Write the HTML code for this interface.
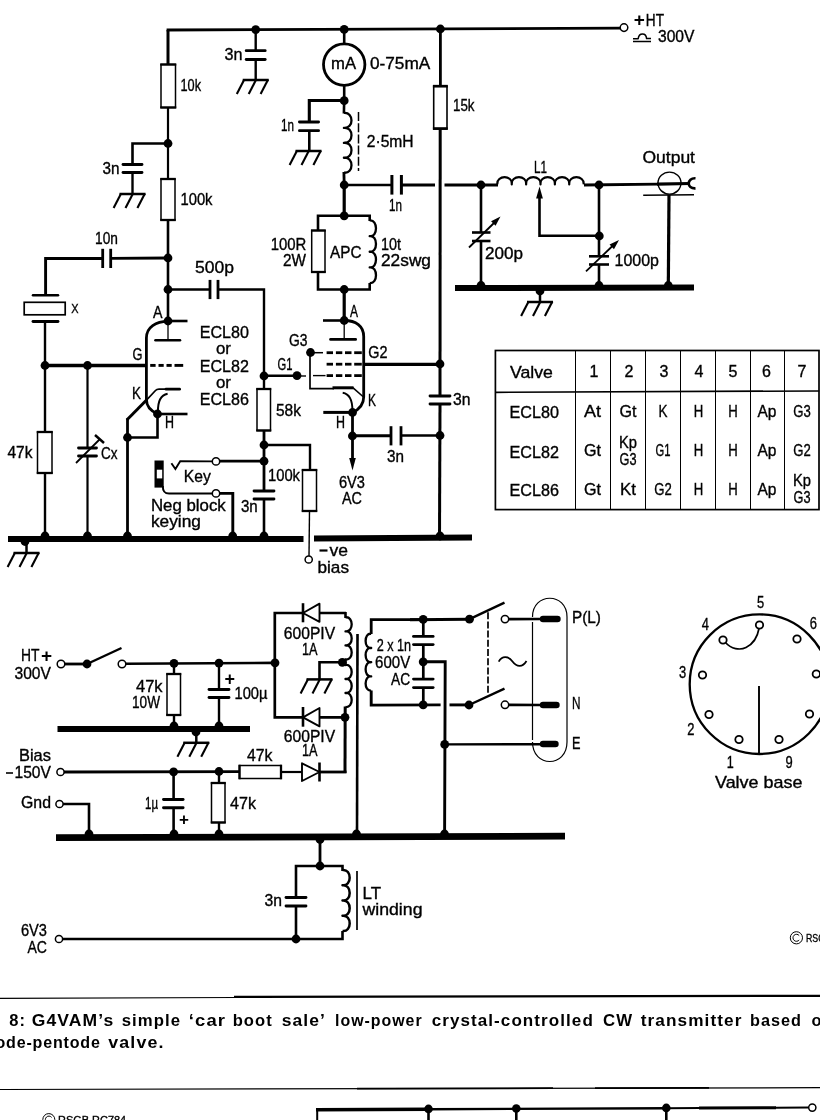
<!DOCTYPE html>
<html><head><meta charset="utf-8"><title>G4VAM transmitter</title>
<style>
html,body{margin:0;padding:0;background:#fff;}
body{width:820px;height:1120px;overflow:hidden;position:relative;}
svg{position:absolute;left:0;top:0;display:block;will-change:transform;}
svg text{font-family:"Liberation Sans",sans-serif;fill:#000;stroke:#000;stroke-width:0.35px;}
svg text.b{stroke:none;}
</style></head><body>
<svg width="820" height="1120" viewBox="0 0 820 1120" stroke="#000" fill="none">
<line x1="166.6" y1="30" x2="620.5" y2="28.2" stroke-width="2.8" stroke-linecap="butt"/>
<line x1="168" y1="30" x2="168" y2="65" stroke-width="3" stroke-linecap="butt"/>
<circle cx="624" cy="27.6" r="3.8" fill="#fff" stroke-width="1.5"/>
<text transform="translate(633.8 26) scale(1.0000 1.000)" font-size="19" font-weight="bold" class="b">+</text>
<text transform="translate(645.8 25.5) scale(0.8533 1.000)" font-size="16">HT</text>
<line x1="633" y1="41.6" x2="651" y2="41.4" stroke-width="1.5" stroke-linecap="butt"/>
<path d="M633 38.7 H638.2 C639 32.5 646 32.5 646.6 38.6 H651" stroke-width="1.5" fill="none" stroke-linecap="butt" stroke-linejoin="round"/>
<text transform="translate(658 41.5) scale(0.9768 1.000)" font-size="16">300V</text>
<rect x="161" y="64.5" width="14.5" height="43" stroke-width="1.5" fill="#fff"/>
<line x1="160.25" y1="64.5" x2="176.25" y2="64.5" stroke-width="2.3" stroke-linecap="butt"/>
<line x1="160.25" y1="107.5" x2="176.25" y2="107.5" stroke-width="2.3" stroke-linecap="butt"/>
<text transform="translate(180.5 91) scale(0.7947 1.000)" font-size="16">10k</text>
<line x1="168" y1="107.5" x2="168" y2="179" stroke-width="2.2" stroke-linecap="butt"/>
<circle cx="168" cy="143.5" r="4.4" fill="#000" stroke="none"/>
<polyline points="168,143.5 132.5,143.5 132.5,164.5" stroke-width="2.6" stroke-linejoin="miter" stroke-linecap="butt" fill="none"/>
<line x1="123" y1="164.5" x2="142" y2="164.5" stroke-width="2.8" stroke-linecap="round"/>
<line x1="123" y1="172.5" x2="142" y2="172.5" stroke-width="2.8" stroke-linecap="round"/>
<line x1="132.5" y1="172.5" x2="132.5" y2="194" stroke-width="2.4" stroke-linecap="butt"/>
<line x1="119.5" y1="194" x2="145.5" y2="194" stroke-width="2.5" stroke-linecap="butt"/>
<line x1="121.1" y1="193.5" x2="113.6" y2="208" stroke-width="2.1" stroke-linecap="butt"/>
<line x1="133" y1="193.5" x2="125.5" y2="208" stroke-width="2.1" stroke-linecap="butt"/>
<line x1="144.9" y1="193.5" x2="137.4" y2="208" stroke-width="2.1" stroke-linecap="butt"/>
<text transform="translate(102.5 174) scale(0.9552 1.000)" font-size="16">3n</text>
<rect x="161" y="179" width="14" height="41" stroke-width="1.5" fill="#fff"/>
<line x1="160.25" y1="179" x2="175.75" y2="179" stroke-width="2.3" stroke-linecap="butt"/>
<line x1="160.25" y1="220" x2="175.75" y2="220" stroke-width="2.3" stroke-linecap="butt"/>
<text transform="translate(180.5 205) scale(0.9223 1.000)" font-size="16">100k</text>
<line x1="168" y1="220" x2="168" y2="321" stroke-width="2.6" stroke-linecap="butt"/>
<circle cx="168" cy="258" r="4.4" fill="#000" stroke="none"/>
<circle cx="168" cy="289.5" r="4.4" fill="#000" stroke="none"/>
<circle cx="168" cy="321" r="4.4" fill="#000" stroke="none"/>
<polyline points="45.6,295 45.6,258.5 102.7,258.5" stroke-width="2.9" stroke-linejoin="miter" stroke-linecap="butt" fill="none"/>
<line x1="102.7" y1="248.8" x2="102.7" y2="268" stroke-width="2.8" stroke-linecap="butt"/>
<line x1="110.7" y1="248.8" x2="110.7" y2="268" stroke-width="2.8" stroke-linecap="butt"/>
<line x1="110.7" y1="258.4" x2="168" y2="258" stroke-width="2.8" stroke-linecap="butt"/>
<text transform="translate(95.1 244) scale(0.8578 1.000)" font-size="16">10n</text>
<line x1="33" y1="295.3" x2="58" y2="295.3" stroke-width="2.5" stroke-linecap="round"/>
<rect x="24.2" y="302.3" width="41" height="12.5" stroke-width="1.7" fill="#fff"/>
<line x1="33" y1="321.5" x2="58" y2="321.5" stroke-width="2.9" stroke-linecap="round"/>
<text transform="translate(71.3 313.3) scale(0.8108 1.000)" font-size="13.5">X</text>
<line x1="45" y1="321" x2="45" y2="432" stroke-width="2.4" stroke-linecap="butt"/>
<rect x="37.5" y="432" width="14.5" height="41" stroke-width="1.5" fill="#fff"/>
<line x1="36.75" y1="432" x2="52.75" y2="432" stroke-width="2.3" stroke-linecap="butt"/>
<line x1="36.75" y1="473" x2="52.75" y2="473" stroke-width="2.3" stroke-linecap="butt"/>
<text transform="translate(7.5 458) scale(0.9691 1.000)" font-size="16">47k</text>
<line x1="45" y1="473" x2="45" y2="538" stroke-width="2.4" stroke-linecap="butt"/>
<line x1="45" y1="365.5" x2="146" y2="365.5" stroke-width="3.4" stroke-linecap="butt"/>
<circle cx="45" cy="365.5" r="4.4" fill="#000" stroke="none"/>
<circle cx="87.5" cy="365.5" r="4.4" fill="#000" stroke="none"/>
<line x1="150.2" y1="365.4" x2="155.6" y2="365.4" stroke-width="2.9" stroke-linecap="butt"/>
<line x1="158.5" y1="365.4" x2="163.7" y2="365.4" stroke-width="2.9" stroke-linecap="butt"/>
<line x1="166.5" y1="365.4" x2="171.7" y2="365.4" stroke-width="2.9" stroke-linecap="butt"/>
<line x1="174.5" y1="365.4" x2="183.2" y2="365.4" stroke-width="2.9" stroke-linecap="butt"/>
<text transform="translate(132.5 359.5) scale(0.8035 1.000)" font-size="16">G</text>
<line x1="87.5" y1="365.5" x2="87.5" y2="448" stroke-width="2.2" stroke-linecap="butt"/>
<line x1="78.5" y1="448" x2="96.5" y2="448" stroke-width="2.8" stroke-linecap="round"/>
<line x1="78.5" y1="456" x2="96.5" y2="456" stroke-width="2.8" stroke-linecap="round"/>
<line x1="87.5" y1="456" x2="87.5" y2="538" stroke-width="2.2" stroke-linecap="butt"/>
<line x1="76" y1="463" x2="100" y2="439" stroke-width="1.8" stroke-linecap="butt"/>
<line x1="95" y1="435" x2="104" y2="443" stroke-width="2.4" stroke-linecap="butt"/>
<text transform="translate(101 459) scale(0.8438 1.000)" font-size="16">Cx</text>
<path d="M168 321.3 C156 321.3 146.4 327 146.4 338 V399.5 C146.4 406 151 411 157.5 414" stroke-width="2.8" fill="none" stroke-linecap="butt" stroke-linejoin="round"/>
<line x1="168" y1="321" x2="187.5" y2="321" stroke-width="2.6" stroke-linecap="butt"/>
<line x1="168" y1="321" x2="168" y2="340" stroke-width="1.3" stroke-linecap="butt"/>
<line x1="155.5" y1="340.2" x2="180" y2="340.2" stroke-width="2.6" stroke-linecap="round"/>
<text transform="translate(153 317.5) scale(0.8902 1.000)" font-size="16">A</text>
<line x1="126.8" y1="420" x2="146.8" y2="399.8" stroke-width="3" stroke-linecap="butt"/>
<path d="M146 400.6 L155.5 390.5 C156.5 389.4 157.5 389.2 159 389.2 H168" stroke-width="1.7" fill="none" stroke-linecap="butt" stroke-linejoin="round"/>
<line x1="166" y1="389.2" x2="179.6" y2="389.2" stroke-width="2.8" stroke-linecap="round"/>
<text transform="translate(132 399) scale(0.8433 1.000)" font-size="16">K</text>
<path d="M167.6 393.7 C161 395 157.6 400 158 412" stroke-width="2" fill="none" stroke-linecap="butt" stroke-linejoin="round"/>
<circle cx="157.5" cy="414" r="4.4" fill="#000" stroke="none"/>
<line x1="157.5" y1="414" x2="187.5" y2="414" stroke-width="2.6" stroke-linecap="butt"/>
<text transform="translate(165 427.5) scale(0.7789 1.000)" font-size="16">H</text>
<polyline points="157.5,414 157.5,437.5 127.5,437.5" stroke-width="2.6" stroke-linejoin="miter" stroke-linecap="butt" fill="none"/>
<circle cx="127.5" cy="437.5" r="4.4" fill="#000" stroke="none"/>
<line x1="127.5" y1="418.5" x2="127.5" y2="538" stroke-width="2.8" stroke-linecap="butt"/>
<text transform="translate(199.75 338) scale(0.9484 1.000)" font-size="17">ECL80</text>
<text transform="translate(216 354) scale(0.9922 1.000)" font-size="17">or</text>
<text transform="translate(199.75 371.5) scale(0.9484 1.000)" font-size="17">ECL82</text>
<text transform="translate(216 387.5) scale(0.9922 1.000)" font-size="17">or</text>
<text transform="translate(199.75 405.3) scale(0.9484 1.000)" font-size="17">ECL86</text>
<line x1="168" y1="289.5" x2="210" y2="289.5" stroke-width="2.6" stroke-linecap="butt"/>
<line x1="210" y1="279.9" x2="210" y2="299.1" stroke-width="2.8" stroke-linecap="butt"/>
<line x1="218" y1="279.9" x2="218" y2="299.1" stroke-width="2.8" stroke-linecap="butt"/>
<polyline points="218,289.5 264,289.5 264,389" stroke-width="2.4" stroke-linejoin="miter" stroke-linecap="butt" fill="none"/>
<text transform="translate(195 273) scale(1.0957 1.000)" font-size="16">500p</text>
<circle cx="264" cy="376" r="4.4" fill="#000" stroke="none"/>
<line x1="264" y1="375.8" x2="297" y2="375.8" stroke-width="2.6" stroke-linecap="butt"/>
<circle cx="297" cy="375.6" r="4.4" fill="#000" stroke="none"/>
<line x1="297" y1="376" x2="306" y2="376" stroke-width="1.4" stroke-linecap="butt"/>
<text transform="translate(277.5 370) scale(0.7028 1.000)" font-size="16">G1</text>
<rect x="257" y="389" width="13.5" height="41.5" stroke-width="1.5" fill="#fff"/>
<line x1="256.25" y1="389" x2="271.25" y2="389" stroke-width="2.3" stroke-linecap="butt"/>
<line x1="256.25" y1="430.5" x2="271.25" y2="430.5" stroke-width="2.3" stroke-linecap="butt"/>
<text transform="translate(276 416) scale(0.9691 1.000)" font-size="16">58k</text>
<line x1="264" y1="430.5" x2="264" y2="491" stroke-width="2.8" stroke-linecap="butt"/>
<circle cx="264" cy="445" r="4.4" fill="#000" stroke="none"/>
<circle cx="264" cy="461.2" r="4.4" fill="#000" stroke="none"/>
<polyline points="264,445 310,445 310,470" stroke-width="2.4" stroke-linejoin="miter" stroke-linecap="butt" fill="none"/>
<rect x="302.5" y="470" width="14" height="41" stroke-width="1.5" fill="#fff"/>
<line x1="301.75" y1="470" x2="317.25" y2="470" stroke-width="2.3" stroke-linecap="butt"/>
<line x1="301.75" y1="511" x2="317.25" y2="511" stroke-width="2.3" stroke-linecap="butt"/>
<text transform="translate(268 481.4) scale(0.9223 1.000)" font-size="16">100k</text>
<line x1="309.5" y1="511" x2="309" y2="556" stroke-width="1.4" stroke-linecap="butt"/>
<circle cx="308.7" cy="559.5" r="3.6" fill="#fff" stroke-width="1.5"/>
<line x1="319.5" y1="550.5" x2="327.5" y2="550.5" stroke-width="2.2" stroke-linecap="butt"/>
<text transform="translate(329.5 555.5) scale(1.0948 1.000)" font-size="16">ve</text>
<text transform="translate(317.5 572.5) scale(1.0732 1.000)" font-size="16">bias</text>
<line x1="254" y1="491" x2="274" y2="491" stroke-width="2.8" stroke-linecap="round"/>
<line x1="254" y1="499" x2="274" y2="499" stroke-width="2.8" stroke-linecap="round"/>
<line x1="264" y1="499" x2="264" y2="538" stroke-width="2.6" stroke-linecap="butt"/>
<text transform="translate(240.9 511.8) scale(0.9440 1.000)" font-size="16">3n</text>
<line x1="264" y1="461.2" x2="219.5" y2="461.2" stroke-width="2.8" stroke-linecap="butt"/>
<circle cx="216" cy="461.4" r="3.7" fill="#fff" stroke-width="1.5"/>
<polyline points="171.4,463.3 175.4,469 180.2,461.2 212.5,461.4" stroke-width="1.9" stroke-linejoin="miter" stroke-linecap="butt" fill="none"/>
<rect x="154.5" y="460.5" width="9.2" height="27.1" stroke-width="0" fill="#000"/>
<rect x="156.8" y="469.7" width="5.4" height="8.7" stroke-width="0" fill="#fff"/>
<path d="M162.8 486 C162.8 491.5 164.5 493.5 169 493.5 H212.5" stroke-width="2" fill="none" stroke-linecap="butt" stroke-linejoin="round"/>
<circle cx="216" cy="493.4" r="3.7" fill="#fff" stroke-width="1.5"/>
<polyline points="219.5,493.4 232.8,493.4 232.8,538" stroke-width="2.9" stroke-linejoin="miter" stroke-linecap="butt" fill="none"/>
<text transform="translate(183.8 482.3) scale(0.9829 1.000)" font-size="16">Key</text>
<text transform="translate(150.9 511.3) scale(1.0527 1.000)" font-size="16">Neg block</text>
<text transform="translate(150.9 527.4) scale(1.0811 1.000)" font-size="16">keying</text>
<line x1="8" y1="539" x2="303.5" y2="539" stroke-width="6" stroke-linecap="butt"/>
<line x1="314" y1="538.5" x2="472" y2="537.5" stroke-width="6" stroke-linecap="butt"/>
<circle cx="45" cy="536" r="4.4" fill="#000" stroke="none"/>
<circle cx="87.5" cy="536" r="4.4" fill="#000" stroke="none"/>
<circle cx="127.5" cy="536" r="4.4" fill="#000" stroke="none"/>
<circle cx="232.7" cy="536" r="4.4" fill="#000" stroke="none"/>
<circle cx="264" cy="536" r="4.4" fill="#000" stroke="none"/>
<circle cx="440" cy="536" r="4.4" fill="#000" stroke="none"/>
<circle cx="25" cy="541.5" r="4.4" fill="#000" stroke="none"/>
<line x1="26.5" y1="541" x2="26.5" y2="553" stroke-width="2.5" stroke-linecap="butt"/>
<line x1="13.5" y1="553" x2="39.5" y2="553" stroke-width="2.5" stroke-linecap="butt"/>
<line x1="15.1" y1="552.5" x2="7.6" y2="567" stroke-width="2.1" stroke-linecap="butt"/>
<line x1="27" y1="552.5" x2="19.5" y2="567" stroke-width="2.1" stroke-linecap="butt"/>
<line x1="38.9" y1="552.5" x2="31.4" y2="567" stroke-width="2.1" stroke-linecap="butt"/>
<circle cx="255.7" cy="29.6" r="4.4" fill="#000" stroke="none"/>
<line x1="255.7" y1="29.6" x2="255.7" y2="50.7" stroke-width="2.4" stroke-linecap="butt"/>
<line x1="246.2" y1="50.7" x2="265.2" y2="50.7" stroke-width="2.8" stroke-linecap="round"/>
<line x1="246.2" y1="59.5" x2="265.2" y2="59.5" stroke-width="2.8" stroke-linecap="round"/>
<line x1="255.7" y1="59.5" x2="255.7" y2="80" stroke-width="2.4" stroke-linecap="butt"/>
<line x1="242.7" y1="80" x2="268.7" y2="80" stroke-width="2.5" stroke-linecap="butt"/>
<line x1="244.3" y1="79.5" x2="236.8" y2="94" stroke-width="2.1" stroke-linecap="butt"/>
<line x1="256.2" y1="79.5" x2="248.7" y2="94" stroke-width="2.1" stroke-linecap="butt"/>
<line x1="268.1" y1="79.5" x2="260.6" y2="94" stroke-width="2.1" stroke-linecap="butt"/>
<text transform="translate(224.5 60) scale(1.0114 1.000)" font-size="16">3n</text>
<circle cx="344.2" cy="29.4" r="4.4" fill="#000" stroke="none"/>
<line x1="344.2" y1="29.4" x2="344.2" y2="44" stroke-width="2.6" stroke-linecap="butt"/>
<circle cx="344.2" cy="64.6" r="20.7" stroke-width="2.8" fill="#fff"/>
<text transform="translate(331 68.9) scale(1.0417 1.000)" font-size="16">mA</text>
<text transform="translate(370 68.9) scale(1.0763 1.000)" font-size="16">0-75mA</text>
<line x1="344.2" y1="85" x2="344.2" y2="101" stroke-width="2.6" stroke-linecap="butt"/>
<circle cx="344.2" cy="100.7" r="4.4" fill="#000" stroke="none"/>
<polyline points="344.2,100.5 309.3,100.5 309.3,122" stroke-width="3.1" stroke-linejoin="miter" stroke-linecap="butt" fill="none"/>
<line x1="299.4" y1="122" x2="318.6" y2="122" stroke-width="2.8" stroke-linecap="round"/>
<line x1="299.4" y1="130.7" x2="318.6" y2="130.7" stroke-width="2.8" stroke-linecap="round"/>
<line x1="309.3" y1="130.5" x2="309.3" y2="151" stroke-width="2.6" stroke-linecap="butt"/>
<line x1="295.5" y1="151" x2="321.5" y2="151" stroke-width="2.5" stroke-linecap="butt"/>
<line x1="297.1" y1="150.5" x2="289.6" y2="165" stroke-width="2.1" stroke-linecap="butt"/>
<line x1="309" y1="150.5" x2="301.5" y2="165" stroke-width="2.1" stroke-linecap="butt"/>
<line x1="320.9" y1="150.5" x2="313.4" y2="165" stroke-width="2.1" stroke-linecap="butt"/>
<text transform="translate(281 131) scale(0.7305 1.000)" font-size="16">1n</text>
<line x1="344.2" y1="100" x2="343.9" y2="113.5" stroke-width="2.6" stroke-linecap="butt"/>
<path d="M343.9 112.9 C354.01 111.7 354.01 129.05 343.9 127.85 C354.01 126.65 354.01 144 343.9 142.8 C354.01 141.6 354.01 158.95 343.9 157.75 C354.01 156.55 354.01 173.9 343.9 172.7" stroke-width="2.3" fill="none" stroke-linecap="butt" stroke-linejoin="round"/>
<line x1="343.9" y1="172" x2="344.2" y2="185" stroke-width="2.8" stroke-linecap="butt"/>
<line x1="358.5" y1="112" x2="358.5" y2="171" stroke-width="1.5" stroke-linecap="butt" stroke-dasharray="9 2.2"/>
<text transform="translate(366.8 146.5) scale(0.9769 1.000)" font-size="16">2·5mH</text>
<circle cx="344.2" cy="185" r="4.4" fill="#000" stroke="none"/>
<line x1="344.2" y1="185" x2="391.9" y2="185" stroke-width="2.6" stroke-linecap="butt"/>
<line x1="391.9" y1="175" x2="391.9" y2="194.6" stroke-width="3" stroke-linecap="butt"/>
<line x1="401.4" y1="175" x2="401.4" y2="194.6" stroke-width="3" stroke-linecap="butt"/>
<line x1="401.4" y1="185" x2="435" y2="185" stroke-width="3" stroke-linecap="butt"/>
<text transform="translate(389 211) scale(0.7305 1.000)" font-size="16">1n</text>
<line x1="344.2" y1="185" x2="344.2" y2="216" stroke-width="3.2" stroke-linecap="butt"/>
<circle cx="344.2" cy="215.8" r="4.4" fill="#000" stroke="none"/>
<polyline points="318,231 318,215.8 369.7,215.8 369.7,221" stroke-width="2.6" stroke-linejoin="miter" stroke-linecap="butt" fill="none"/>
<rect x="311.7" y="230.5" width="13.3" height="41.5" stroke-width="1.5" fill="#fff"/>
<line x1="310.95" y1="230.5" x2="325.75" y2="230.5" stroke-width="2.3" stroke-linecap="butt"/>
<line x1="310.95" y1="272" x2="325.75" y2="272" stroke-width="2.3" stroke-linecap="butt"/>
<polyline points="318,272 318,289.5 369.7,289.5 369.7,283" stroke-width="2.6" stroke-linejoin="miter" stroke-linecap="butt" fill="none"/>
<path d="M369.7 220.5 C378.08 219.25 378.08 237.38 369.7 236.12 C378.08 234.88 378.08 253 369.7 251.75 C378.08 250.5 378.08 268.62 369.7 267.38 C378.08 266.12 378.08 284.25 369.7 283" stroke-width="2.3" fill="none" stroke-linecap="butt" stroke-linejoin="round"/>
<circle cx="344.2" cy="289.5" r="4.4" fill="#000" stroke="none"/>
<text transform="translate(270.7 250.3) scale(0.9333 1.000)" font-size="16">100R</text>
<text transform="translate(283 266.3) scale(0.9583 1.000)" font-size="16">2W</text>
<text transform="translate(330 257.6) scale(0.9575 1.000)" font-size="16">APC</text>
<text transform="translate(381 250.3) scale(0.8992 1.000)" font-size="16">10t</text>
<text transform="translate(381 266.3) scale(1.0811 1.000)" font-size="16">22swg</text>
<line x1="344.2" y1="289.5" x2="344.2" y2="320.5" stroke-width="3.2" stroke-linecap="butt"/>
<circle cx="344.2" cy="320.5" r="4.4" fill="#000" stroke="none"/>
<line x1="323" y1="320.5" x2="344.2" y2="320.5" stroke-width="2.6" stroke-linecap="butt"/>
<path d="M344.2 320.5 C356 320.5 363.7 326 363.7 336.5 V397 C363.7 404 359 409.5 352.5 412.5" stroke-width="2.8" fill="none" stroke-linecap="butt" stroke-linejoin="round"/>
<line x1="344.2" y1="320.5" x2="344.2" y2="339.5" stroke-width="1.3" stroke-linecap="butt"/>
<line x1="330.5" y1="339.4" x2="355.7" y2="339.4" stroke-width="2.6" stroke-linecap="round"/>
<text transform="translate(350 316.5) scale(0.7496 1.000)" font-size="16">A</text>
<circle cx="310.5" cy="352.5" r="4.4" fill="#000" stroke="none"/>
<line x1="310.5" y1="352.7" x2="323" y2="352.7" stroke-width="1.5" stroke-linecap="butt"/>
<line x1="326.6" y1="352.7" x2="333" y2="352.7" stroke-width="2.8" stroke-linecap="butt"/>
<line x1="335.9" y1="352.7" x2="342.3" y2="352.7" stroke-width="2.8" stroke-linecap="butt"/>
<line x1="345" y1="352.7" x2="351.5" y2="352.7" stroke-width="2.8" stroke-linecap="butt"/>
<line x1="354.2" y1="352.7" x2="361.8" y2="352.7" stroke-width="2.8" stroke-linecap="butt"/>
<text transform="translate(289 346) scale(0.8668 1.000)" font-size="16">G3</text>
<line x1="326.6" y1="364.2" x2="333" y2="364.2" stroke-width="2.8" stroke-linecap="butt"/>
<line x1="335.9" y1="364.2" x2="342.3" y2="364.2" stroke-width="2.8" stroke-linecap="butt"/>
<line x1="345" y1="364.2" x2="351.5" y2="364.2" stroke-width="2.8" stroke-linecap="butt"/>
<line x1="354.2" y1="364.2" x2="361.8" y2="364.2" stroke-width="2.8" stroke-linecap="butt"/>
<line x1="364.5" y1="364.3" x2="440" y2="364.3" stroke-width="3.2" stroke-linecap="butt"/>
<text transform="translate(368.3 358) scale(0.8996 1.000)" font-size="16">G2</text>
<line x1="313" y1="375.6" x2="325.5" y2="375.6" stroke-width="1.4" stroke-linecap="butt"/>
<line x1="326.6" y1="375.6" x2="333" y2="375.6" stroke-width="2.8" stroke-linecap="butt"/>
<line x1="335.9" y1="375.6" x2="342.3" y2="375.6" stroke-width="2.8" stroke-linecap="butt"/>
<line x1="345" y1="375.6" x2="351.5" y2="375.6" stroke-width="2.8" stroke-linecap="butt"/>
<line x1="354.2" y1="375.6" x2="361.8" y2="375.6" stroke-width="2.8" stroke-linecap="butt"/>
<polyline points="310,352.5 310,388.6 334,388.6" stroke-width="1.7" stroke-linejoin="miter" stroke-linecap="butt" fill="none"/>
<line x1="332.5" y1="387.8" x2="353.5" y2="387.8" stroke-width="3" stroke-linecap="butt"/>
<line x1="352.5" y1="387.3" x2="363.5" y2="397" stroke-width="1.6" stroke-linecap="butt"/>
<text transform="translate(368 406) scale(0.7496 1.000)" font-size="16">K</text>
<path d="M342.7 392.8 C348.5 393.8 352.6 398 352.4 411" stroke-width="1.9" fill="none" stroke-linecap="butt" stroke-linejoin="round"/>
<circle cx="352.5" cy="412.5" r="4.4" fill="#000" stroke="none"/>
<line x1="323.3" y1="412.4" x2="352.5" y2="412.4" stroke-width="3" stroke-linecap="butt"/>
<text transform="translate(336 427.5) scale(0.7789 1.000)" font-size="16">H</text>
<line x1="352.5" y1="412.5" x2="352.5" y2="459" stroke-width="2.8" stroke-linecap="butt"/>
<circle cx="352.4" cy="436" r="4.4" fill="#000" stroke="none"/>
<polygon points="352.5,470.5 349.2,458 355.8,458" fill="#000" stroke="none"/>
<line x1="352.5" y1="435.8" x2="391" y2="435.8" stroke-width="3" stroke-linecap="butt"/>
<line x1="391" y1="426.2" x2="391" y2="445.4" stroke-width="2.8" stroke-linecap="butt"/>
<line x1="401" y1="426.2" x2="401" y2="445.4" stroke-width="2.8" stroke-linecap="butt"/>
<line x1="401" y1="435.5" x2="440" y2="435.5" stroke-width="2.6" stroke-linecap="butt"/>
<text transform="translate(387 462) scale(0.9552 1.000)" font-size="16">3n</text>
<text transform="translate(339 487.5) scale(0.9133 1.000)" font-size="16">6V3</text>
<text transform="translate(342 504) scale(0.8998 1.000)" font-size="16">AC</text>
<circle cx="440.4" cy="29" r="4.4" fill="#000" stroke="none"/>
<line x1="440.4" y1="29" x2="440.4" y2="86" stroke-width="2.8" stroke-linecap="butt"/>
<rect x="433.7" y="86.2" width="13.3" height="42.4" stroke-width="1.6" fill="#fff"/>
<line x1="432.9" y1="86.2" x2="447.8" y2="86.2" stroke-width="2.7" stroke-linecap="butt"/>
<line x1="432.9" y1="128.6" x2="447.8" y2="128.6" stroke-width="2.7" stroke-linecap="butt"/>
<text transform="translate(453 111) scale(0.8334 1.000)" font-size="16">15k</text>
<line x1="440.2" y1="129" x2="440" y2="396" stroke-width="3" stroke-linecap="butt"/>
<circle cx="440" cy="364" r="4.4" fill="#000" stroke="none"/>
<line x1="430" y1="396" x2="450" y2="396" stroke-width="2.8" stroke-linecap="round"/>
<line x1="430" y1="404" x2="450" y2="404" stroke-width="2.8" stroke-linecap="round"/>
<text transform="translate(453 405) scale(0.9833 1.000)" font-size="16">3n</text>
<line x1="440" y1="404" x2="439.5" y2="538" stroke-width="3" stroke-linecap="butt"/>
<circle cx="440" cy="435.5" r="4.4" fill="#000" stroke="none"/>
<line x1="444.5" y1="185" x2="498" y2="185" stroke-width="2.8" stroke-linecap="butt"/>
<circle cx="481" cy="185" r="4.4" fill="#000" stroke="none"/>
<path d="M497.4 184.4 C496.25 174.82 512.92 174.82 511.77 184.4 C510.62 174.82 527.28 174.82 526.13 184.4 C524.98 174.82 541.65 174.82 540.5 184.4 C539.35 174.82 556.02 174.82 554.87 184.4 C553.72 174.82 570.38 174.82 569.23 184.4 C568.08 174.82 584.75 174.82 583.6 184.4" stroke-width="2.2" fill="none" stroke-linecap="butt" stroke-linejoin="round"/>
<line x1="584" y1="185" x2="658" y2="184.1" stroke-width="2.8" stroke-linecap="butt"/>
<circle cx="599" cy="185" r="4.4" fill="#000" stroke="none"/>
<text transform="translate(534 172.5) scale(0.7305 1.000)" font-size="16">L1</text>
<polygon points="539.5,186.5 542.9,198.5 536.1,198.5" fill="#000" stroke="none"/>
<polyline points="539.5,196 539.5,235.8 599,235.8" stroke-width="2.6" stroke-linejoin="miter" stroke-linecap="butt" fill="none"/>
<circle cx="599.3" cy="236" r="4.4" fill="#000" stroke="none"/>
<line x1="481" y1="185" x2="481" y2="232.5" stroke-width="2.6" stroke-linecap="butt"/>
<line x1="472" y1="232.5" x2="490.5" y2="232.5" stroke-width="2.6" stroke-linecap="butt"/>
<line x1="472" y1="241" x2="490.5" y2="241" stroke-width="2.6" stroke-linecap="butt"/>
<line x1="481" y1="241" x2="481" y2="287" stroke-width="2.6" stroke-linecap="butt"/>
<line x1="469" y1="247.5" x2="495" y2="222" stroke-width="1.8" stroke-linecap="butt"/>
<polygon points="500.5,216.5 495.54,225.76 491.09,221.16" fill="#000" stroke="none"/>
<text transform="translate(485 259) scale(1.0676 1.000)" font-size="16">200p</text>
<line x1="599" y1="185" x2="599" y2="256.3" stroke-width="2.6" stroke-linecap="butt"/>
<line x1="589" y1="256.3" x2="609" y2="256.3" stroke-width="2.6" stroke-linecap="butt"/>
<line x1="589" y1="264.5" x2="609" y2="264.5" stroke-width="2.6" stroke-linecap="butt"/>
<line x1="599" y1="264.5" x2="599" y2="287" stroke-width="2.6" stroke-linecap="butt"/>
<line x1="586" y1="271.4" x2="613" y2="245.5" stroke-width="1.8" stroke-linecap="butt"/>
<polygon points="619,240 613.96,249.21 609.55,244.58" fill="#000" stroke="none"/>
<text transform="translate(614.6 265.7) scale(0.9979 1.000)" font-size="16">1000p</text>
<text transform="translate(642.5 162.5) scale(1.0930 1.000)" font-size="16">Output</text>
<ellipse cx="669.5" cy="183.1" rx="11.5" ry="11" stroke-width="1.4" fill="none"/>
<line x1="657" y1="184.1" x2="690" y2="183.5" stroke-width="3.2" stroke-linecap="butt"/>
<path d="M695.5 178.3 C686.5 177.8 686.5 189 695.5 188.4" stroke-width="2.6" fill="none" stroke-linecap="butt" stroke-linejoin="round"/>
<line x1="643.2" y1="195.3" x2="694" y2="194.8" stroke-width="1.6" stroke-linecap="butt"/>
<line x1="669" y1="195" x2="668.3" y2="287" stroke-width="3.2" stroke-linecap="butt"/>
<line x1="455" y1="288" x2="694" y2="287.5" stroke-width="6" stroke-linecap="butt"/>
<circle cx="481" cy="285.5" r="4.4" fill="#000" stroke="none"/>
<circle cx="599" cy="285.5" r="4.4" fill="#000" stroke="none"/>
<circle cx="668.3" cy="285.5" r="4.4" fill="#000" stroke="none"/>
<circle cx="540" cy="291" r="4.4" fill="#000" stroke="none"/>
<line x1="540" y1="290" x2="540" y2="302" stroke-width="2.5" stroke-linecap="butt"/>
<line x1="527" y1="302" x2="553" y2="302" stroke-width="2.5" stroke-linecap="butt"/>
<line x1="528.6" y1="301.5" x2="521.1" y2="316" stroke-width="2.1" stroke-linecap="butt"/>
<line x1="540.5" y1="301.5" x2="533" y2="316" stroke-width="2.1" stroke-linecap="butt"/>
<line x1="552.4" y1="301.5" x2="544.9" y2="316" stroke-width="2.1" stroke-linecap="butt"/>
<rect x="495.4" y="350.5" width="323.6" height="159.1" stroke-width="1.7" fill="none"/>
<line x1="495" y1="392.3" x2="819.3" y2="391" stroke-width="1.7" stroke-linecap="butt"/>
<line x1="575.5" y1="350" x2="575.5" y2="509.7" stroke-width="1" stroke-linecap="butt"/>
<line x1="610.5" y1="350" x2="610.5" y2="509.7" stroke-width="1" stroke-linecap="butt"/>
<line x1="645.5" y1="350" x2="645.5" y2="509.7" stroke-width="1" stroke-linecap="butt"/>
<line x1="680.5" y1="350" x2="680.5" y2="509.7" stroke-width="1" stroke-linecap="butt"/>
<line x1="715.5" y1="350" x2="715.5" y2="509.7" stroke-width="1" stroke-linecap="butt"/>
<line x1="750.5" y1="350" x2="750.5" y2="509.7" stroke-width="1" stroke-linecap="butt"/>
<line x1="784.5" y1="350" x2="784.5" y2="509.7" stroke-width="1" stroke-linecap="butt"/>
<text transform="translate(510 377.5) scale(1.1072 1.000)" font-size="16">Valve</text>
<text transform="translate(589.55 377.3) scale(1.0000 1.000)" font-size="16">1</text>
<text transform="translate(624.55 377.3) scale(1.0000 1.000)" font-size="16">2</text>
<text transform="translate(659.55 377.3) scale(1.0000 1.000)" font-size="16">3</text>
<text transform="translate(694.55 377.3) scale(1.0000 1.000)" font-size="16">4</text>
<text transform="translate(728.55 377.3) scale(1.0000 1.000)" font-size="16">5</text>
<text transform="translate(762.05 377.3) scale(1.0000 1.000)" font-size="16">6</text>
<text transform="translate(797.55 377.3) scale(1.0000 1.000)" font-size="16">7</text>
<text transform="translate(509.5 418) scale(1.0118 1.000)" font-size="16">ECL80</text>
<text transform="translate(509.5 458) scale(1.0118 1.000)" font-size="16">ECL82</text>
<text transform="translate(509.5 496) scale(1.0118 1.000)" font-size="16">ECL86</text>
<text transform="translate(584 417.3) scale(1.1245 1.000)" font-size="16">At</text>
<text transform="translate(619.5 417.3) scale(1.0065 1.000)" font-size="16">Gt</text>
<text transform="translate(658.5 417.3) scale(0.8433 1.000)" font-size="16">K</text>
<text transform="translate(693.75 417.3) scale(0.8222 1.000)" font-size="16">H</text>
<text transform="translate(728.25 417.3) scale(0.8222 1.000)" font-size="16">H</text>
<text transform="translate(757.5 417.3) scale(0.9709 1.000)" font-size="16">Ap</text>
<text transform="translate(793.25 417.3) scale(0.8199 1.000)" font-size="16">G3</text>
<text transform="translate(584 456.3) scale(1.0065 1.000)" font-size="16">Gt</text>
<text transform="translate(655.5 456.3) scale(0.7028 1.000)" font-size="16">G1</text>
<text transform="translate(693.75 456.3) scale(0.8222 1.000)" font-size="16">H</text>
<text transform="translate(728.25 456.3) scale(0.8222 1.000)" font-size="16">H</text>
<text transform="translate(757.5 456.3) scale(0.9709 1.000)" font-size="16">Ap</text>
<text transform="translate(793.25 456.3) scale(0.8199 1.000)" font-size="16">G2</text>
<text transform="translate(584 495) scale(1.0065 1.000)" font-size="16">Gt</text>
<text transform="translate(620 495) scale(1.0584 1.000)" font-size="16">Kt</text>
<text transform="translate(654.25 495) scale(0.8199 1.000)" font-size="16">G2</text>
<text transform="translate(693.75 495) scale(0.8222 1.000)" font-size="16">H</text>
<text transform="translate(728.25 495) scale(0.8222 1.000)" font-size="16">H</text>
<text transform="translate(757.5 495) scale(0.9709 1.000)" font-size="16">Ap</text>
<text transform="translate(619 447.5) scale(0.9198 1.000)" font-size="16">Kp</text>
<text transform="translate(619.5 464.5) scale(0.7965 1.000)" font-size="16">G3</text>
<text transform="translate(793 486) scale(0.9198 1.000)" font-size="16">Kp</text>
<text transform="translate(793.5 502.5) scale(0.7965 1.000)" font-size="16">G3</text>
<text transform="translate(21 661) scale(0.8674 1.000)" font-size="16">HT</text>
<text transform="translate(41 661.5) scale(1.0000 1.000)" font-size="19" font-weight="bold" class="b">+</text>
<text transform="translate(14.5 679) scale(0.9768 1.000)" font-size="16">300V</text>
<circle cx="61" cy="664" r="3.8" fill="#fff" stroke-width="1.5"/>
<line x1="64.8" y1="664" x2="87" y2="664" stroke-width="2.8" stroke-linecap="butt"/>
<circle cx="87" cy="664" r="4.4" fill="#000" stroke="none"/>
<line x1="87" y1="664" x2="121.5" y2="648" stroke-width="2.4" stroke-linecap="butt"/>
<circle cx="122" cy="664" r="3.8" fill="#fff" stroke-width="1.5"/>
<line x1="125.8" y1="663.8" x2="275" y2="662.9" stroke-width="2.6" stroke-linecap="butt"/>
<circle cx="174" cy="663.3" r="4.4" fill="#000" stroke="none"/>
<circle cx="219" cy="663.1" r="4.4" fill="#000" stroke="none"/>
<circle cx="275" cy="662.8" r="4.4" fill="#000" stroke="none"/>
<line x1="174" y1="663" x2="174" y2="674" stroke-width="2.4" stroke-linecap="butt"/>
<rect x="167" y="674" width="13.5" height="41" stroke-width="1.5" fill="#fff"/>
<line x1="166.25" y1="674" x2="181.25" y2="674" stroke-width="2.3" stroke-linecap="butt"/>
<line x1="166.25" y1="715" x2="181.25" y2="715" stroke-width="2.3" stroke-linecap="butt"/>
<line x1="174" y1="715" x2="174" y2="727" stroke-width="2.4" stroke-linecap="butt"/>
<text transform="translate(136 692) scale(1.0273 1.000)" font-size="16">47k</text>
<text transform="translate(132 707.5) scale(0.8511 1.000)" font-size="16">10W</text>
<line x1="219" y1="663" x2="219" y2="689.5" stroke-width="2.4" stroke-linecap="butt"/>
<line x1="209" y1="689.5" x2="229" y2="689.5" stroke-width="2.8" stroke-linecap="round"/>
<line x1="209" y1="697.5" x2="229" y2="697.5" stroke-width="2.8" stroke-linecap="round"/>
<line x1="219" y1="697.5" x2="219" y2="727" stroke-width="2.4" stroke-linecap="butt"/>
<text transform="translate(224.5 684.5) scale(1.0000 1.000)" font-size="18" font-weight="bold" class="b">+</text>
<text transform="translate(234.5 699) scale(0.9189 1.000)" font-size="16">100µ</text>
<line x1="57.5" y1="729" x2="250" y2="729" stroke-width="6" stroke-linecap="butt"/>
<circle cx="174" cy="726" r="4.4" fill="#000" stroke="none"/>
<circle cx="219" cy="726" r="4.4" fill="#000" stroke="none"/>
<circle cx="196" cy="732" r="4.4" fill="#000" stroke="none"/>
<line x1="196.3" y1="731" x2="196.3" y2="742.8" stroke-width="2.5" stroke-linecap="butt"/>
<line x1="183.3" y1="742.8" x2="209.3" y2="742.8" stroke-width="2.5" stroke-linecap="butt"/>
<line x1="184.9" y1="742.3" x2="177.4" y2="756.8" stroke-width="2.1" stroke-linecap="butt"/>
<line x1="196.8" y1="742.3" x2="189.3" y2="756.8" stroke-width="2.1" stroke-linecap="butt"/>
<line x1="208.7" y1="742.3" x2="201.2" y2="756.8" stroke-width="2.1" stroke-linecap="butt"/>
<polyline points="346,613 274.8,613 274.8,717.3 345,717.3" stroke-width="2.7" stroke-linejoin="miter" stroke-linecap="butt" fill="none"/>
<line x1="303" y1="603.2" x2="303" y2="622.3" stroke-width="2.6" stroke-linecap="butt"/>
<path d="M303 613 L319.5 603.7 V621.8 Z" stroke-width="1.9" fill="#fff" stroke-linecap="butt" stroke-linejoin="round"/>
<line x1="303" y1="707" x2="303" y2="726.7" stroke-width="2.6" stroke-linecap="butt"/>
<path d="M303 717.3 L319.5 708 V726.4 Z" stroke-width="1.9" fill="#fff" stroke-linecap="butt" stroke-linejoin="round"/>
<text transform="translate(283.8 638.8) scale(0.9774 1.000)" font-size="16">600PIV</text>
<text transform="translate(302 655.3) scale(0.7971 1.000)" font-size="16">1A</text>
<text transform="translate(283.8 741.6) scale(0.9774 1.000)" font-size="16">600PIV</text>
<text transform="translate(302 755.6) scale(0.7971 1.000)" font-size="16">1A</text>
<line x1="345.5" y1="612" x2="345.5" y2="618" stroke-width="2.6" stroke-linecap="butt"/>
<path d="M345.5 617.3 C353.75 616.17 353.75 632.49 345.5 631.37 C353.75 630.24 353.75 646.56 345.5 645.43 C353.75 644.31 353.75 660.63 345.5 659.5" stroke-width="2.3" fill="none" stroke-linecap="butt" stroke-linejoin="round"/>
<path d="M345.5 659.5 C345.5 659.06 345.5 665.44 345.5 665" stroke-width="2.3" fill="none" stroke-linecap="butt" stroke-linejoin="round"/>
<path d="M345.5 665 C353.75 663.88 353.75 680.12 345.5 679 C353.75 677.88 353.75 694.12 345.5 693 C353.75 691.88 353.75 708.12 345.5 707" stroke-width="2.3" fill="none" stroke-linecap="butt" stroke-linejoin="round"/>
<line x1="345.2" y1="706.5" x2="345" y2="773" stroke-width="3" stroke-linecap="butt"/>
<circle cx="342.3" cy="662.3" r="4.4" fill="#000" stroke="none"/>
<circle cx="345" cy="717.3" r="4.4" fill="#000" stroke="none"/>
<polyline points="342,662.3 319.5,662.3 319.5,679.4" stroke-width="2.6" stroke-linejoin="miter" stroke-linecap="butt" fill="none"/>
<line x1="306.5" y1="679.4" x2="332.5" y2="679.4" stroke-width="2.5" stroke-linecap="butt"/>
<line x1="308.1" y1="678.9" x2="300.6" y2="693.4" stroke-width="2.1" stroke-linecap="butt"/>
<line x1="320" y1="678.9" x2="312.5" y2="693.4" stroke-width="2.1" stroke-linecap="butt"/>
<line x1="331.9" y1="678.9" x2="324.4" y2="693.4" stroke-width="2.1" stroke-linecap="butt"/>
<line x1="357.5" y1="634" x2="357" y2="836" stroke-width="2.6" stroke-linecap="butt"/>
<polyline points="371.2,634 371.2,619.7 425,619.7" stroke-width="2.8" stroke-linejoin="miter" stroke-linecap="butt" fill="none"/>
<path d="M371.2 633.8 C363.75 632.66 363.75 649.14 371.2 648 C363.75 646.86 363.75 663.34 371.2 662.2 C363.75 661.06 363.75 677.54 371.2 676.4 C363.75 675.26 363.75 691.74 371.2 690.6" stroke-width="2.3" fill="none" stroke-linecap="butt" stroke-linejoin="round"/>
<polyline points="371.2,690.5 371.2,705.1 440.6,704.9" stroke-width="2.9" stroke-linejoin="miter" stroke-linecap="butt" fill="none"/>
<text transform="translate(376.7 651) scale(0.7915 1.000)" font-size="16">2 x 1n</text>
<text transform="translate(375.1 667.7) scale(0.9393 1.000)" font-size="16">600V</text>
<text transform="translate(391.1 684.6) scale(0.8593 1.000)" font-size="16">AC</text>
<line x1="410" y1="619.7" x2="469.5" y2="619.3" stroke-width="2.9" stroke-linecap="butt"/>
<circle cx="423.2" cy="619.4" r="4.4" fill="#000" stroke="none"/>
<circle cx="469.5" cy="619.2" r="4.4" fill="#000" stroke="none"/>
<line x1="469.5" y1="619.2" x2="504.5" y2="602.6" stroke-width="2.4" stroke-linecap="butt"/>
<circle cx="505" cy="619.1" r="3.7" fill="#fff" stroke-width="1.5"/>
<line x1="508.8" y1="619.1" x2="541" y2="619" stroke-width="2.6" stroke-linecap="butt"/>
<line x1="423.3" y1="619" x2="423.3" y2="636" stroke-width="2.7" stroke-linecap="butt"/>
<line x1="413.5" y1="636.4" x2="433.1" y2="636.4" stroke-width="2.9" stroke-linecap="round"/>
<line x1="413.5" y1="644.6" x2="433.1" y2="644.6" stroke-width="2.9" stroke-linecap="round"/>
<line x1="423.3" y1="644.5" x2="423.3" y2="679" stroke-width="2.7" stroke-linecap="butt"/>
<circle cx="423.2" cy="661.8" r="4.4" fill="#000" stroke="none"/>
<line x1="413.5" y1="679.1" x2="433.1" y2="679.1" stroke-width="2.9" stroke-linecap="round"/>
<line x1="413.5" y1="687.6" x2="433.1" y2="687.6" stroke-width="2.9" stroke-linecap="round"/>
<line x1="423.3" y1="687" x2="423.3" y2="705" stroke-width="2.7" stroke-linecap="butt"/>
<circle cx="423.2" cy="704.8" r="4.4" fill="#000" stroke="none"/>
<polyline points="423.3,661.8 445.2,661.8 444.6,836" stroke-width="2.9" stroke-linejoin="miter" stroke-linecap="butt" fill="none"/>
<line x1="449.5" y1="704.9" x2="469" y2="704.9" stroke-width="2.9" stroke-linecap="butt"/>
<circle cx="469" cy="705" r="4.4" fill="#000" stroke="none"/>
<line x1="469" y1="705" x2="504.5" y2="688.6" stroke-width="2.4" stroke-linecap="butt"/>
<circle cx="505" cy="704.8" r="3.7" fill="#fff" stroke-width="1.5"/>
<line x1="508.8" y1="704.9" x2="541" y2="705" stroke-width="2.6" stroke-linecap="butt"/>
<line x1="488" y1="612.2" x2="488" y2="694" stroke-width="1.7" stroke-linecap="butt" stroke-dasharray="7 2.2"/>
<path d="M498.7 661.6 C502 656 508 655.5 512.5 661.5 S522.5 667.5 526.5 661" stroke-width="1.8" fill="none" stroke-linecap="butt" stroke-linejoin="round"/>
<path d="M532.5 617 C532.5 592 567 592 567 617 V742 C567 768 532.5 768 532.5 742" stroke-width="1.2" fill="none" stroke-linecap="butt" stroke-linejoin="round"/>
<line x1="532.5" y1="622" x2="532.5" y2="740" stroke-width="1.2" stroke-linecap="butt"/>
<line x1="543" y1="619" x2="557.5" y2="619" stroke-width="6.4" stroke-linecap="round"/>
<line x1="543" y1="705" x2="556.5" y2="705" stroke-width="6.4" stroke-linecap="round"/>
<line x1="543" y1="744" x2="555.5" y2="744" stroke-width="6.4" stroke-linecap="round"/>
<circle cx="444.7" cy="744.4" r="4.4" fill="#000" stroke="none"/>
<line x1="444.7" y1="744.4" x2="541" y2="744.2" stroke-width="2.4" stroke-linecap="butt"/>
<text transform="translate(572 623) scale(0.9594 1.000)" font-size="16">P(L)</text>
<text transform="translate(572 709) scale(0.7356 1.000)" font-size="16">N</text>
<text transform="translate(572 749) scale(0.7965 1.000)" font-size="16">E</text>
<text transform="translate(19 761) scale(1.0281 1.000)" font-size="16">Bias</text>
<line x1="6" y1="773" x2="13" y2="773" stroke-width="1.6" stroke-linecap="butt"/>
<text transform="translate(14.5 778) scale(0.9768 1.000)" font-size="16">150V</text>
<circle cx="60.5" cy="772" r="3.6" fill="#fff" stroke-width="1.5"/>
<line x1="64" y1="772" x2="239.5" y2="771.6" stroke-width="2.9" stroke-linecap="butt"/>
<circle cx="173.6" cy="771.8" r="4.4" fill="#000" stroke="none"/>
<circle cx="219" cy="771.5" r="4.4" fill="#000" stroke="none"/>
<rect x="239.5" y="765.5" width="41.5" height="13" stroke-width="1.5" fill="#fff"/>
<line x1="239.5" y1="764.75" x2="239.5" y2="779.25" stroke-width="2.3" stroke-linecap="butt"/>
<line x1="281" y1="764.75" x2="281" y2="779.25" stroke-width="2.3" stroke-linecap="butt"/>
<text transform="translate(247 760.5) scale(0.9885 1.000)" font-size="16">47k</text>
<line x1="281" y1="772" x2="302" y2="772" stroke-width="2.2" stroke-linecap="butt"/>
<path d="M302 763.3 L319.5 772 L302 781 Z" stroke-width="1.9" fill="#fff" stroke-linecap="butt" stroke-linejoin="round"/>
<line x1="319.5" y1="762.5" x2="319.5" y2="781.5" stroke-width="2.6" stroke-linecap="butt"/>
<line x1="319.5" y1="772" x2="346.5" y2="772" stroke-width="2.8" stroke-linecap="butt"/>
<line x1="173.6" y1="772" x2="173.6" y2="799.5" stroke-width="2.6" stroke-linecap="butt"/>
<line x1="163.5" y1="799.5" x2="183.1" y2="799.5" stroke-width="2.9" stroke-linecap="round"/>
<line x1="163.5" y1="807.7" x2="183.1" y2="807.7" stroke-width="2.9" stroke-linecap="round"/>
<line x1="173.6" y1="807.5" x2="173.6" y2="835" stroke-width="2.6" stroke-linecap="butt"/>
<text transform="translate(145 809) scale(0.7176 1.000)" font-size="16">1µ</text>
<text transform="translate(179 825) scale(1.0000 1.000)" font-size="17" font-weight="bold" class="b">+</text>
<line x1="219" y1="771.5" x2="219" y2="783" stroke-width="2.4" stroke-linecap="butt"/>
<rect x="211.5" y="783" width="13.5" height="39.5" stroke-width="1.5" fill="#fff"/>
<line x1="210.75" y1="783" x2="225.75" y2="783" stroke-width="2.3" stroke-linecap="butt"/>
<line x1="210.75" y1="822.5" x2="225.75" y2="822.5" stroke-width="2.3" stroke-linecap="butt"/>
<line x1="219" y1="822.5" x2="219" y2="835" stroke-width="2.4" stroke-linecap="butt"/>
<text transform="translate(230 809) scale(1.0079 1.000)" font-size="16">47k</text>
<text transform="translate(21 808) scale(0.9920 1.000)" font-size="16">Gnd</text>
<circle cx="59.5" cy="804" r="3.6" fill="#fff" stroke-width="1.5"/>
<polyline points="63,804 89,804 89,835" stroke-width="2.6" stroke-linejoin="miter" stroke-linecap="butt" fill="none"/>
<line x1="56" y1="837.6" x2="565" y2="836.2" stroke-width="6.8" stroke-linecap="butt"/>
<circle cx="89" cy="834" r="4.4" fill="#000" stroke="none"/>
<circle cx="174" cy="834" r="4.4" fill="#000" stroke="none"/>
<circle cx="219" cy="834" r="4.4" fill="#000" stroke="none"/>
<circle cx="356.5" cy="834" r="4.4" fill="#000" stroke="none"/>
<circle cx="444.5" cy="834" r="4.4" fill="#000" stroke="none"/>
<circle cx="320" cy="839.5" r="4.4" fill="#000" stroke="none"/>
<line x1="320" y1="839" x2="320" y2="866" stroke-width="2.8" stroke-linecap="butt"/>
<circle cx="320" cy="866" r="4.4" fill="#000" stroke="none"/>
<polyline points="296,897.5 296,866 342.5,866 342.5,871" stroke-width="2.6" stroke-linejoin="miter" stroke-linecap="butt" fill="none"/>
<line x1="286" y1="897.5" x2="306" y2="897.5" stroke-width="2.8" stroke-linecap="round"/>
<line x1="286" y1="906" x2="306" y2="906" stroke-width="2.8" stroke-linecap="round"/>
<line x1="296" y1="906" x2="296" y2="939" stroke-width="2.6" stroke-linecap="butt"/>
<path d="M342.5 870 C352.08 868.78 352.08 886.47 342.5 885.25 C352.08 884.03 352.08 901.72 342.5 900.5 C352.08 899.28 352.08 916.97 342.5 915.75 C352.08 914.53 352.08 932.22 342.5 931" stroke-width="2.5" fill="none" stroke-linecap="butt" stroke-linejoin="round"/>
<polyline points="342.5,931 342.5,939 296,939" stroke-width="2.6" stroke-linejoin="miter" stroke-linecap="butt" fill="none"/>
<circle cx="296" cy="939" r="4.4" fill="#000" stroke="none"/>
<line x1="357" y1="871" x2="357" y2="930" stroke-width="1.7" stroke-linecap="butt"/>
<text transform="translate(264.5 906) scale(0.9833 1.000)" font-size="16">3n</text>
<text transform="translate(362.5 899) scale(1.0581 1.000)" font-size="16">LT</text>
<text transform="translate(362.5 915) scale(1.1058 1.000)" font-size="16">winding</text>
<text transform="translate(21 936) scale(0.9133 1.000)" font-size="16">6V3</text>
<text transform="translate(27.5 952.5) scale(0.8773 1.000)" font-size="16">AC</text>
<circle cx="59" cy="939" r="3.6" fill="#fff" stroke-width="1.5"/>
<line x1="62.5" y1="939" x2="296" y2="939" stroke-width="2.6" stroke-linecap="butt"/>
<circle cx="759.5" cy="684.2" r="69.8" stroke-width="2.3" fill="none"/>
<path d="M725.5 642.5 C731 649 740 650.5 746 647.5 C753 644 757.5 637 759 628.5" stroke-width="1.7" fill="none" stroke-linecap="butt" stroke-linejoin="round"/>
<circle cx="759.5" cy="625" r="3.7" fill="#fff" stroke-width="1.8"/>
<circle cx="723" cy="640" r="3.7" fill="#fff" stroke-width="1.8"/>
<circle cx="797" cy="639" r="3.7" fill="#fff" stroke-width="1.8"/>
<circle cx="702.5" cy="675" r="3.7" fill="#fff" stroke-width="1.8"/>
<circle cx="816.3" cy="674" r="3.7" fill="#fff" stroke-width="1.8"/>
<circle cx="709" cy="714.5" r="3.7" fill="#fff" stroke-width="1.8"/>
<circle cx="809.5" cy="714" r="3.7" fill="#fff" stroke-width="1.8"/>
<circle cx="739" cy="739.5" r="3.7" fill="#fff" stroke-width="1.8"/>
<circle cx="779" cy="739.5" r="3.7" fill="#fff" stroke-width="1.8"/>
<line x1="759" y1="686" x2="759" y2="754" stroke-width="1.9" stroke-linecap="butt"/>
<text transform="translate(756.9 607.5) scale(0.8091 1.000)" font-size="16">5</text>
<text transform="translate(701.7 629.5) scale(0.8091 1.000)" font-size="16">4</text>
<text transform="translate(809.7 629) scale(0.8091 1.000)" font-size="16">6</text>
<text transform="translate(678.9 677.5) scale(0.8091 1.000)" font-size="16">3</text>
<text transform="translate(687.2 734.5) scale(0.8091 1.000)" font-size="16">2</text>
<text transform="translate(726.8 767.5) scale(0.7867 1.000)" font-size="16">1</text>
<text transform="translate(785.4 767.5) scale(0.8091 1.000)" font-size="16">9</text>
<text transform="translate(715 787.5) scale(1.1221 1.000)" font-size="16">Valve base</text>
<circle cx="796.4" cy="937.8" r="6.1" stroke-width="1.0" fill="none"/>
<path d="M799.2 935.6 A3.5 3.5 0 1 0 799.2 940" stroke-width="1" fill="none" stroke-linecap="butt" stroke-linejoin="round"/>
<text transform="translate(805.9 942) scale(0.7671 1.000)" font-size="11.5">RSGB</text>
<line x1="0" y1="998.3" x2="236" y2="997.5" stroke-width="1.2" stroke-linecap="butt"/>
<line x1="234" y1="996.9" x2="820" y2="995.8" stroke-width="2.2" stroke-linecap="butt"/>
<text transform="translate(9.3 1025.5) scale(1.0311 1.000)" font-size="16" font-weight="bold" class="b" letter-spacing="1">8:</text>
<text transform="translate(31.7 1025.5) scale(1.0959 1.000)" font-size="16" font-weight="bold" class="b" letter-spacing="1">G4VAM’s</text>
<text transform="translate(121.7 1025.5) scale(1.0469 1.000)" font-size="16" font-weight="bold" class="b" letter-spacing="1">simple</text>
<text transform="translate(188.7 1025.5) scale(1.1535 1.000)" font-size="16" font-weight="bold" class="b" letter-spacing="1">‘car</text>
<text transform="translate(232.7 1025.5) scale(1.0359 1.000)" font-size="16" font-weight="bold" class="b" letter-spacing="1">boot</text>
<text transform="translate(281.7 1025.5) scale(1.0938 1.000)" font-size="16" font-weight="bold" class="b" letter-spacing="1">sale’</text>
<text transform="translate(335 1025.5) scale(0.9953 1.000)" font-size="16" font-weight="bold" class="b" letter-spacing="1">low-power</text>
<text transform="translate(431.7 1025.5) scale(1.0664 1.000)" font-size="16" font-weight="bold" class="b" letter-spacing="1">crystal-controlled</text>
<text transform="translate(603 1025.5) scale(1.0486 1.000)" font-size="16" font-weight="bold" class="b" letter-spacing="1">CW</text>
<text transform="translate(640.7 1025.5) scale(1.0761 1.000)" font-size="16" font-weight="bold" class="b" letter-spacing="1">transmitter</text>
<text transform="translate(750 1025.5) scale(1.0151 1.000)" font-size="16" font-weight="bold" class="b" letter-spacing="1">based</text>
<text transform="translate(811.4 1025.5) scale(1.0269 1.000)" font-size="16" font-weight="bold" class="b" letter-spacing="1">on</text>
<text transform="translate(-4.5 1047.5) scale(1.0049 1.000)" font-size="16" font-weight="bold" class="b" letter-spacing="0.8">ode-pentode</text>
<text transform="translate(108.3 1047.5) scale(1.1155 1.000)" font-size="16" font-weight="bold" class="b" letter-spacing="1">valve.</text>
<line x1="0" y1="1089.5" x2="820" y2="1087.7" stroke-width="1.2" stroke-linecap="butt"/>
<line x1="357" y1="1088.6" x2="553" y2="1088.2" stroke-width="1.7" stroke-linecap="butt"/>
<line x1="595" y1="1088.1" x2="709" y2="1087.9" stroke-width="1.7" stroke-linecap="butt"/>
<circle cx="48.8" cy="1119.6" r="6.0" stroke-width="1.0" fill="none"/>
<path d="M51.6 1117.4 A3.5 3.5 0 1 0 51.6 1121.8" stroke-width="1" fill="none" stroke-linecap="butt" stroke-linejoin="round"/>
<text transform="translate(58 1124) scale(0.9541 1.000)" font-size="11.5">RSGB RC784</text>
<line x1="316" y1="1109.7" x2="429" y2="1109.22" stroke-width="3.4" stroke-linecap="butt"/>
<line x1="428" y1="1109.23" x2="667" y2="1108.21" stroke-width="2.4" stroke-linecap="butt"/>
<line x1="666" y1="1108.22" x2="700" y2="1108.07" stroke-width="2" stroke-linecap="butt"/>
<line x1="699" y1="1108.08" x2="776" y2="1107.75" stroke-width="3" stroke-linecap="butt"/>
<line x1="775" y1="1107.76" x2="808.8" y2="1107.61" stroke-width="2" stroke-linecap="butt"/>
<line x1="317.2" y1="1109" x2="317.2" y2="1120" stroke-width="2" stroke-linecap="butt"/>
<circle cx="428.5" cy="1108.92" r="4.3" fill="#000" stroke="none"/>
<line x1="428.5" y1="1109.22" x2="428.5" y2="1120" stroke-width="2.6" stroke-linecap="butt"/>
<circle cx="516.3" cy="1108.55" r="4.3" fill="#000" stroke="none"/>
<line x1="516.3" y1="1108.85" x2="516.3" y2="1120" stroke-width="2.6" stroke-linecap="butt"/>
<circle cx="666.3" cy="1107.92" r="4.3" fill="#000" stroke="none"/>
<line x1="666.3" y1="1108.22" x2="666.3" y2="1120" stroke-width="2.6" stroke-linecap="butt"/>
<circle cx="812.3" cy="1107.6" r="3.6" fill="#fff" stroke-width="1.5"/>
</svg>
</body></html>
